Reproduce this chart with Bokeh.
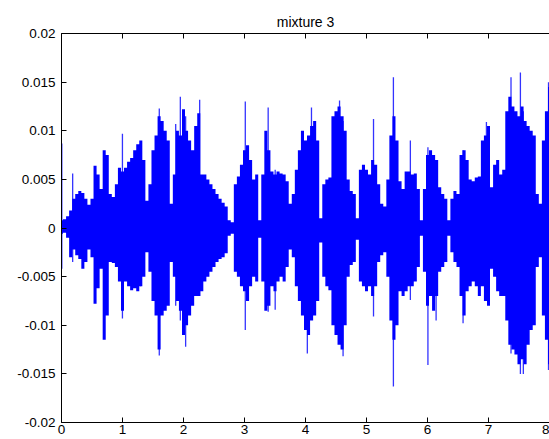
from bokeh.plotting import figure
from bokeh.models import FixedTicker, LinearAxis, CustomJSTickFormatter, ColumnDataSource
from bokeh.embed import file_html
from bokeh.resources import INLINE

# ---- data (amplitudes in thousandths; 50 ms envelope samples) ----
upper_milli = [
    0.8, 0.9, 1.2, 1.8, 3.0, 3.5, 3.8, 3.6, 3.0, 2.4,
    3.0, 6.4, 5.5, 4.0, 8.0, 7.5, 3.5, 3.2, 4.5, 6.2,
    5.8, 6.2, 6.8, 7.2, 8.0, 8.6, 9.0, 7.0, 2.8, 4.5,
    8.0, 9.5, 11.5, 11.0, 10.0, 9.0, 2.5, 5.5, 10.0, 9.5,
    12.2, 10.0, 9.0, 8.0, 10.5, 11.8, 5.5, 5.5, 5.0, 4.5,
    4.0, 3.5, 3.0, 2.6, 2.2, 0.8, 0.6, 4.5, 5.3, 6.5,
    8.0, 8.5, 7.0, 5.0, 5.5, 0.8, 5.5, 10.0, 8.0, 5.8,
    5.5, 5.8, 5.6, 5.5, 4.8, 2.5, 3.5, 6.0, 8.0, 10.0,
    9.0, 9.5, 10.5, 11.0, 9.0, 1.0, 4.5, 5.0, 5.2, 11.5,
    12.0, 12.5, 11.5, 10.0, 5.0, 3.8, 3.5, 1.0, 6.0, 6.5,
    6.0, 5.5, 7.0, 6.5, 4.5, 2.5, 2.2, 5.0, 9.5, 11.5,
    9.0, 4.8, 4.0, 5.8, 5.8, 5.5, 5.6, 4.0, 0.8, 4.0,
    7.5, 8.0, 7.5, 7.0, 4.2, 3.5, 3.0, 0.8, 3.0, 3.8,
    3.5, 7.5, 8.0, 7.0, 5.0, 4.8, 5.2, 5.3, 9.0, 9.5,
    10.5, 4.2, 6.5, 7.0, 5.5, 6.0, 12.0, 13.5, 12.5, 12.0,
    11.5, 12.5, 11.0, 10.5, 10.0, 9.5, 3.5, 2.5, 9.0, 12.0,
    14.5,
]
lower_milli = [
    -0.6, -0.5, -1.0, -3.0, -2.2, -2.8, -3.2, -4.2, -3.5, -2.2,
    -3.0, -7.8, -6.2, -4.2, -11.5, -9.0, -3.5, -3.6, -4.0, -5.5,
    -8.5, -5.5, -6.0, -6.4, -6.2, -6.5, -6.0, -5.0, -2.5, -4.5,
    -7.5, -9.0, -12.5, -9.0, -8.5, -8.0, -3.5, -5.0, -7.5, -8.5,
    -11.0, -10.0, -9.0, -8.0, -7.0, -7.0, -6.5, -5.5, -5.0, -4.5,
    -4.0, -3.5, -3.2, -3.0, -2.6, -0.8, -0.6, -4.5, -5.0, -6.0,
    -6.5, -7.5, -6.0, -5.0, -5.5, -1.0, -5.5, -8.5, -8.0, -6.0,
    -6.5, -5.5, -5.0, -5.5, -4.0, -2.2, -3.0, -6.0, -7.5, -9.0,
    -10.5, -11.0, -9.5, -9.0, -7.5, -1.5, -5.0, -6.0, -6.4, -10.0,
    -11.0, -12.0, -12.5, -10.0, -5.0, -3.8, -3.5, -1.2, -5.5, -6.0,
    -6.5, -6.0, -7.0, -6.0, -3.5, -2.8, -2.5, -5.0, -9.5, -11.5,
    -10.0, -6.5, -7.0, -6.5, -6.0, -6.0, -5.5, -4.0, -0.8, -4.5,
    -8.0, -7.0, -8.5, -7.0, -4.5, -4.0, -3.5, -0.8, -2.5, -3.5,
    -4.0, -7.0, -9.0, -6.5, -6.0, -5.5, -6.0, -7.0, -6.0, -7.5,
    -8.0, -4.2, -5.0, -6.5, -7.0, -7.0, -9.5, -12.0, -12.5, -13.0,
    -14.0, -13.5, -14.0, -12.0, -10.5, -10.0, -4.0, -3.0, -9.0, -11.5,
    -14.0,
]
sample_step = 0.05  # seconds between envelope samples

# isolated thin peaks (time s, top, bottom in thousandths)
spike_t = [0.005, 0.183, 0.999, 1.296, 1.603, 1.872, 1.948, 2.035, 2.265, 3.013,
           3.388, 3.503, 4.03, 4.098, 4.558, 4.616, 5.115, 5.441, 5.719, 6.007,
           6.141, 6.583, 6.966, 7.369, 7.523, 7.571, 7.984]
spike_hi = [8.7, 5.6, 9.7, 8.8, 12.3, 10.7, 13.5, 11.5, 13.2, 13.0,
            12.4, 6.0, 9.0, 12.4, 13.1, 11.0, 11.2, 15.5, 9.0, 8.3,
            7.0, 8.0, 10.9, 15.5, 16.0, 12.0, 15.0]
spike_lo = [-4.2, -3.5, -9.3, -6.0, -13.1, -8.0, -9.5, -12.2, -7.0, -10.5,
            -8.6, -8.4, -12.9, -9.0, -11.0, -13.2, -9.1, -16.3, -7.4, -14.1,
            -9.5, -9.8, -7.0, -12.9, -15.0, -15.0, -14.6]

x_ticks = [0, 1, 2, 3, 4, 5, 6, 7, 8]
y_ticks = [-0.02, -0.015, -0.01, -0.005, 0, 0.005, 0.01, 0.015, 0.02]
title_text = "mixture 3"

# ---- build ----
t = [i * sample_step for i in range(len(upper_milli))]
env = ColumnDataSource(dict(t=t,
                            top=[v / 1000 for v in upper_milli],
                            bottom=[v / 1000 for v in lower_milli]))
spk = ColumnDataSource(dict(t=spike_t,
                            hi=[v / 1000 for v in spike_hi],
                            lo=[v / 1000 for v in spike_lo]))

FONT = "Liberation Sans"
BLUE = "#0000ff"

p = figure(width=549, height=439, x_range=(0, 8), y_range=(-0.02, 0.02),
           output_backend="svg", toolbar_location=None, title=title_text,
           min_border_left=61, min_border_right=0, min_border_top=33,
           min_border_bottom=17)
p.grid.visible = False
p.outline_line_color = None
p.background_fill_color = "white"
p.border_fill_color = "white"

p.title.align = "center"
p.title.text_font = FONT
p.title.text_font_size = "14px"
p.title.text_font_style = "normal"
p.title.text_color = "#000000"
p.title.standoff = 8

p.varea_step(x="t", y1="bottom", y2="top", step_mode="center", source=env,
             fill_color=BLUE)
p.segment(x0="t", y0="lo", x1="t", y1="hi", source=spk,
          line_color=BLUE, line_width=1.3, line_alpha=0.8)

def style_axis(ax):
    ax.major_tick_in = 5
    ax.major_tick_out = 0
    ax.minor_tick_in = 0
    ax.minor_tick_out = 0
    ax.axis_line_color = "#000000"
    ax.major_tick_line_color = "#000000"
    ax.axis_line_width = 1
    ax.major_label_text_font = FONT
    ax.major_label_text_color = "#000000"
    ax.major_label_text_font_size = "13.5px"

p.xaxis.ticker = FixedTicker(ticks=x_ticks)
style_axis(p.xaxis[0])
p.xaxis.major_label_standoff = 2

p.yaxis.ticker = FixedTicker(ticks=y_ticks)
p.yaxis.formatter = CustomJSTickFormatter(code="return String(tick);")
style_axis(p.yaxis[0])
p.yaxis.major_label_standoff = 6

# top border with inward ticks, no labels
top_ax = LinearAxis(ticker=FixedTicker(ticks=x_ticks))
style_axis(top_ax)
top_ax.major_label_text_font_size = "0px"
top_ax.major_label_standoff = 0
top_ax.major_label_text_alpha = 0
p.add_layout(top_ax, "above")

open("out.html", "w").write(file_html(p, INLINE))
